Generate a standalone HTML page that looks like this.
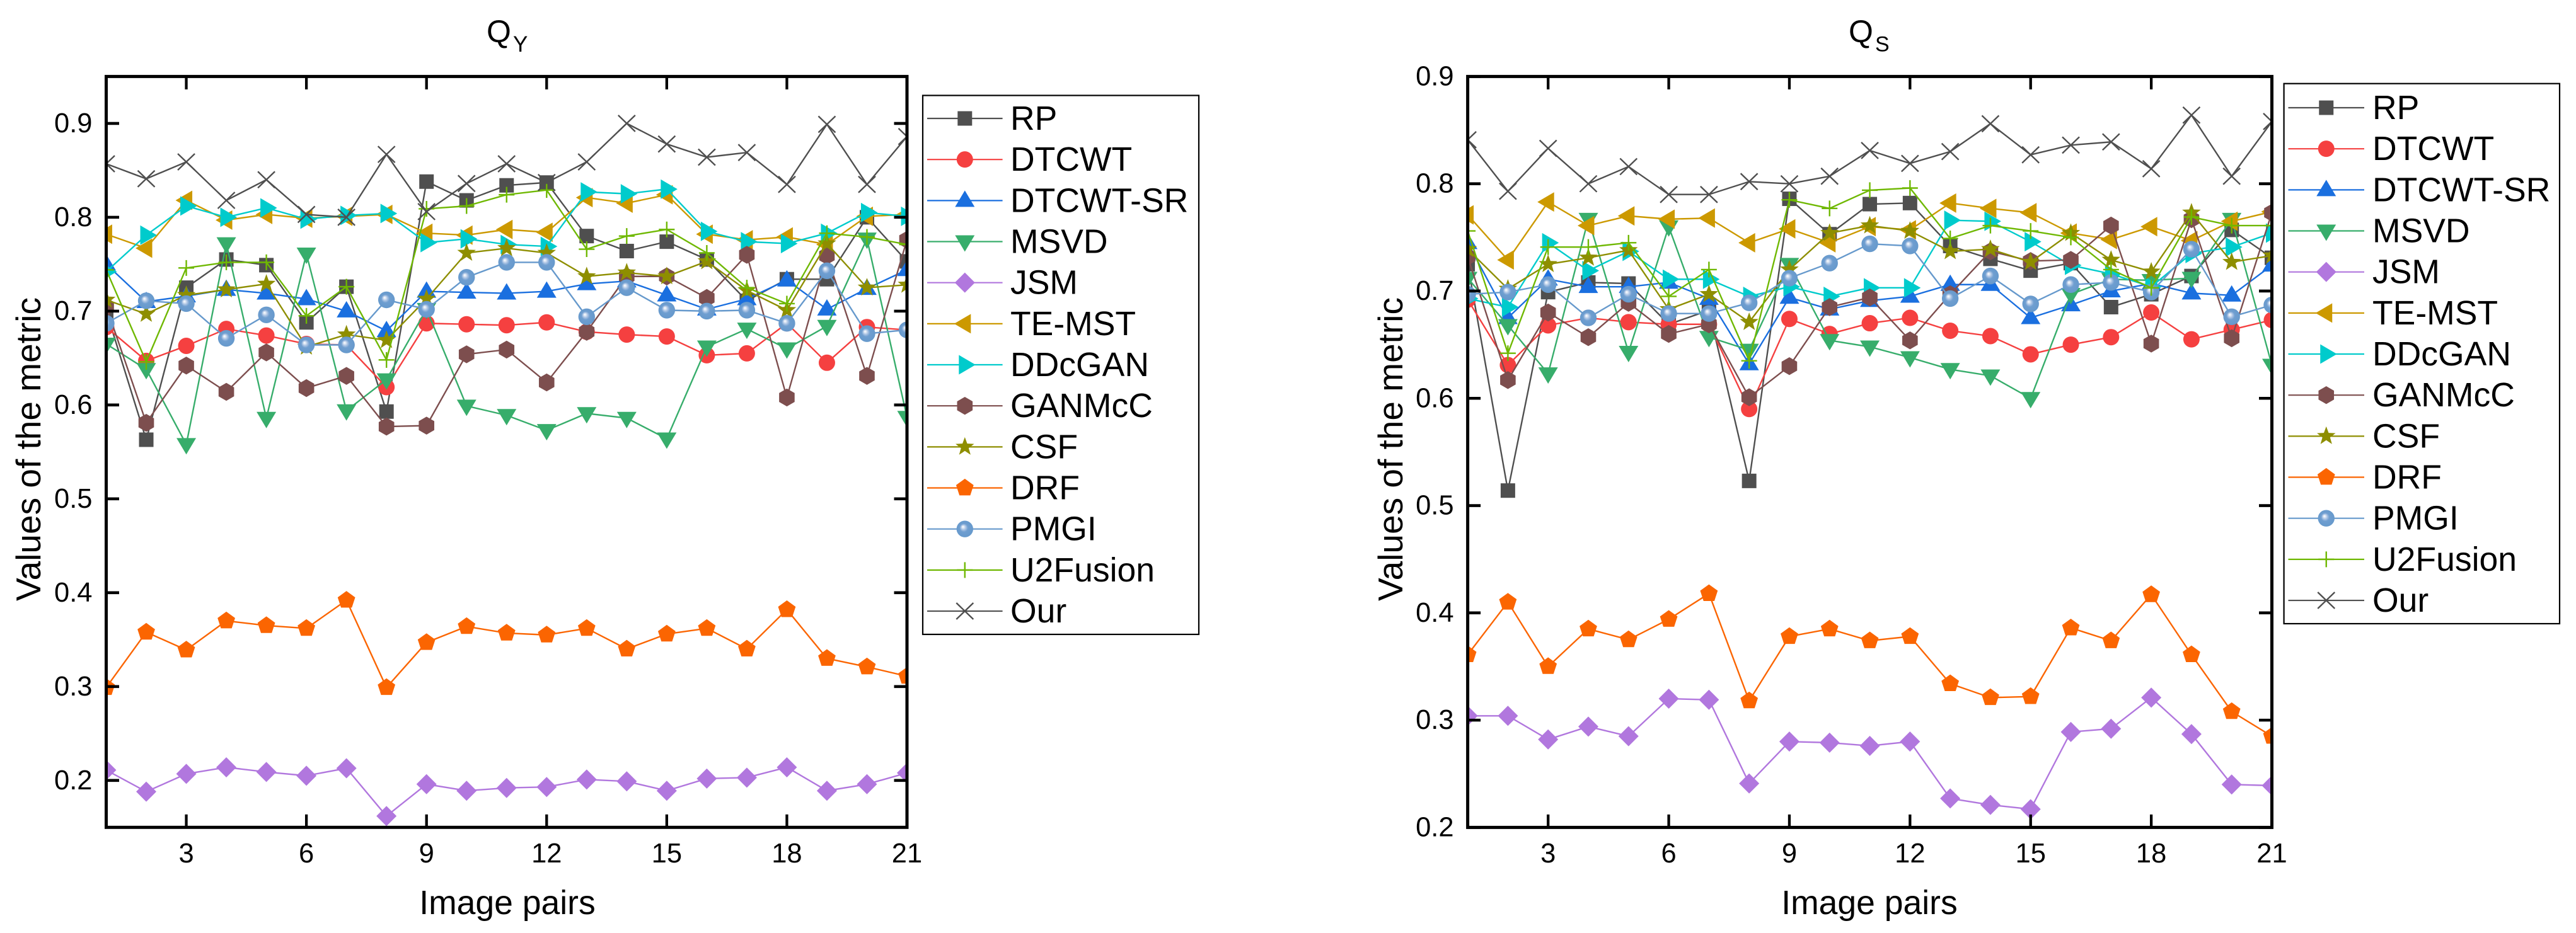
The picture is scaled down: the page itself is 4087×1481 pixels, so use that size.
<!DOCTYPE html>
<html lang="en">
<head>
<meta charset="utf-8">
<title>QY and QS metric comparison</title>
<style>
html,body{margin:0;padding:0;background:#fff}
svg{display:block;font-family:"Liberation Sans",Arial,sans-serif}
text{fill:#000}
</style>
</head>
<body>
<svg id="figure" xmlns="http://www.w3.org/2000/svg" width="4087" height="1481" viewBox="0 0 4087 1481">
  <defs>
    <radialGradient id="sphere" cx="0.5" cy="0.5" r="0.5" fx="0.38" fy="0.36">
      <stop offset="0" stop-color="#ffffff"/>
      <stop offset="0.12" stop-color="#e3ebf6"/>
      <stop offset="0.3" stop-color="#a9c2e3"/>
      <stop offset="0.5" stop-color="#6f9ed0"/>
      <stop offset="1" stop-color="#6699cc"/>
    </radialGradient>
    <clipPath id="clip-qy"><rect x="168.5" y="121" width="1270.5" height="1192"/></clipPath>
    <clipPath id="clip-qs"><rect x="2328.5" y="121" width="1276" height="1192"/></clipPath>
  </defs>
  <rect x="0" y="0" width="4087" height="1481" fill="#ffffff"/>

  <g id="panel-qy">
    <text x="772" y="67" font-size="50">Q</text>
    <text x="814" y="82" font-size="35">Y</text>
    <text x="805" y="1451" font-size="53.5" text-anchor="middle">Image pairs</text>
    <text transform="translate(64 954) rotate(-90)" font-size="55">Values of the metric</text>
  </g>

  <g id="panel-qs">
    <text x="2933" y="67" font-size="50">Q</text>
    <text x="2975" y="81.5" font-size="34">S</text>
    <text x="2966" y="1451" font-size="53.5" text-anchor="middle">Image pairs</text>
    <text transform="translate(2225 954) rotate(-90)" font-size="55">Values of the metric</text>
  </g>
</svg>

<script>
// ---- shared categories and labels ----
const imagePairs = [1,2,3,4,5,6,7,8,9,10,11,12,13,14,15,16,17,18,19,20,21];
const xTickLabels = [3,6,9,12,15,18,21];
const qyTickLabels = [0.2,0.3,0.4,0.5,0.6,0.7,0.8,0.9];
const qsTickLabels = [0.2,0.3,0.4,0.5,0.6,0.7,0.8,0.9];
const methodNames = ["RP","DTCWT","DTCWT-SR","MSVD","JSM","TE-MST","DDcGAN","GANMcC","CSF","DRF","PMGI","U2Fusion","Our"];

// ---- QY values ----
const qyRP = [0.70,0.563,0.725,0.755,0.749,0.688,0.726,0.593,0.838,0.818,0.834,0.837,0.780,0.764,0.774,0.755,0.711,0.734,0.734,0.800,0.753];
const qyDTCWT = [0.683,0.647,0.663,0.681,0.674,0.665,0.664,0.619,0.687,0.686,0.685,0.688,0.678,0.675,0.673,0.653,0.655,0.687,0.645,0.683,0.680];
const qyDTCWTSR = [0.750,0.710,0.716,0.723,0.719,0.713,0.700,0.679,0.721,0.720,0.719,0.721,0.729,0.732,0.717,0.702,0.713,0.733,0.702,0.724,0.744];
const qyMSVD = [0.665,0.638,0.558,0.772,0.586,0.761,0.594,0.627,0.702,0.599,0.589,0.573,0.591,0.586,0.564,0.662,0.681,0.660,0.684,0.777,0.587];
const qyJSM = [0.211,0.188,0.207,0.214,0.209,0.205,0.213,0.162,0.196,0.189,0.192,0.193,0.201,0.199,0.189,0.202,0.203,0.214,0.189,0.196,0.208];
const qyTEMST = [0.782,0.767,0.818,0.797,0.803,0.799,0.801,0.803,0.783,0.781,0.787,0.784,0.821,0.815,0.824,0.782,0.776,0.779,0.771,0.801,0.803];
const qyDDcGAN = [0.742,0.781,0.812,0.800,0.810,0.798,0.802,0.804,0.773,0.777,0.771,0.769,0.827,0.825,0.830,0.785,0.774,0.772,0.783,0.805,0.801];
const qyGANMcC = [0.705,0.581,0.642,0.614,0.656,0.618,0.631,0.577,0.578,0.654,0.659,0.624,0.678,0.737,0.737,0.714,0.760,0.608,0.759,0.631,0.776];
const qyCSF = [0.712,0.697,0.717,0.723,0.729,0.662,0.675,0.669,0.713,0.762,0.767,0.762,0.737,0.741,0.737,0.753,0.722,0.701,0.772,0.725,0.728];
const qyDRF = [0.299,0.358,0.339,0.370,0.365,0.362,0.392,0.299,0.347,0.364,0.357,0.355,0.362,0.340,0.356,0.362,0.340,0.382,0.330,0.321,0.311];
const qyPMGI = [0.687,0.711,0.708,0.671,0.696,0.664,0.664,0.712,0.702,0.736,0.752,0.752,0.694,0.725,0.701,0.700,0.701,0.687,0.743,0.676,0.680];
const qyU2Fusion = [0.744,0.646,0.746,0.752,0.752,0.695,0.726,0.648,0.809,0.812,0.824,0.829,0.766,0.780,0.787,0.762,0.725,0.708,0.783,0.779,0.771];
const qyOur = [0.857,0.841,0.859,0.818,0.840,0.803,0.800,0.867,0.806,0.836,0.857,0.837,0.859,0.900,0.878,0.864,0.869,0.835,0.899,0.835,0.886];

// ---- QS values ----
const qsRP = [0.725,0.514,0.699,0.708,0.707,0.669,0.682,0.523,0.786,0.753,0.781,0.782,0.742,0.730,0.719,0.726,0.685,0.697,0.714,0.757,0.731];
const qsDTCWT = [0.692,0.631,0.668,0.675,0.671,0.669,0.669,0.590,0.674,0.660,0.670,0.675,0.663,0.658,0.641,0.650,0.657,0.680,0.655,0.664,0.673];
const qsDTCWTSR = [0.745,0.675,0.711,0.704,0.704,0.708,0.693,0.632,0.694,0.683,0.691,0.695,0.706,0.706,0.675,0.687,0.700,0.707,0.698,0.696,0.724];
const qsMSVD = [0.712,0.668,0.623,0.767,0.643,0.760,0.657,0.645,0.725,0.654,0.648,0.638,0.627,0.621,0.600,0.697,0.711,0.710,0.712,0.767,0.631];
const qsJSM = [0.304,0.304,0.282,0.294,0.285,0.320,0.319,0.241,0.280,0.279,0.276,0.280,0.227,0.221,0.217,0.289,0.292,0.321,0.287,0.240,0.239];
const qsTEMST = [0.771,0.729,0.783,0.761,0.770,0.767,0.768,0.745,0.758,0.745,0.760,0.757,0.782,0.777,0.773,0.754,0.748,0.760,0.747,0.765,0.774];
const qsDDcGAN = [0.693,0.685,0.745,0.719,0.737,0.711,0.711,0.695,0.704,0.695,0.703,0.703,0.766,0.765,0.746,0.724,0.716,0.704,0.735,0.741,0.754];
const qsGANMcC = [0.732,0.617,0.680,0.657,0.689,0.660,0.669,0.601,0.630,0.685,0.694,0.654,0.697,0.737,0.728,0.729,0.761,0.651,0.767,0.656,0.773];
const qsCSF = [0.739,0.702,0.725,0.731,0.738,0.683,0.697,0.671,0.720,0.754,0.761,0.756,0.737,0.739,0.727,0.754,0.729,0.718,0.773,0.727,0.733];
const qsDRF = [0.361,0.410,0.350,0.385,0.375,0.394,0.418,0.318,0.378,0.385,0.374,0.378,0.334,0.321,0.322,0.386,0.374,0.417,0.361,0.308,0.285];
const qsPMGI = [0.697,0.699,0.706,0.675,0.697,0.679,0.679,0.689,0.712,0.726,0.744,0.742,0.693,0.714,0.688,0.706,0.708,0.699,0.739,0.676,0.687];
const qsU2Fusion = [0.756,0.642,0.741,0.741,0.745,0.695,0.720,0.635,0.785,0.777,0.794,0.796,0.749,0.761,0.756,0.750,0.720,0.703,0.769,0.761,0.761];
const qsOur = [0.841,0.793,0.833,0.800,0.816,0.790,0.790,0.802,0.800,0.807,0.831,0.819,0.830,0.856,0.827,0.836,0.839,0.814,0.864,0.807,0.858];

// ---- styling (not data) ----
const methodColors = ["#4f4f4f","#f54040","#1a6fdf","#37ad6b","#b177de","#cc9900","#00cbcc","#7d4e4e","#8e8e00","#fb6501","#6699cc","#6fb802","#4f4f4f"];
const methodMarkers = ["square","circle","up","down","diamond","left","right","hexagon","star","pentagon","sphere","plus","cross"];
const qySeries = [qyRP,qyDTCWT,qyDTCWTSR,qyMSVD,qyJSM,qyTEMST,qyDDcGAN,qyGANMcC,qyCSF,qyDRF,qyPMGI,qyU2Fusion,qyOur];
const qsSeries = [qsRP,qsDTCWT,qsDTCWTSR,qsMSVD,qsJSM,qsTEMST,qsDDcGAN,qsGANMcC,qsCSF,qsDRF,qsPMGI,qsU2Fusion,qsOur];

const NS = "http://www.w3.org/2000/svg";

function makeEl(tag, attrs) {
  const el = document.createElementNS(NS, tag);
  for (const k in attrs) el.setAttribute(k, attrs[k]);
  return el;
}

function axisX(panel, v) {
  return panel.left + (v - 1) / 20 * (panel.right - panel.left);
}
function axisY(panel, v) {
  return panel.bottom - (v - panel.yMin) / (panel.yMax - panel.yMin) * (panel.bottom - panel.top);
}

function polyPoints(cx, cy, pts) {
  return pts.map(function (p) { return (cx + p[0]).toFixed(2) + "," + (cy + p[1]).toFixed(2); }).join(" ");
}
function radialPoints(n, r, startDeg) {
  const out = [];
  for (let i = 0; i < n; i++) {
    const a = (startDeg + i * 360 / n) * Math.PI / 180;
    out.push([r * Math.cos(a), r * Math.sin(a)]);
  }
  return out;
}
function starPoints(R, r) {
  const out = [];
  for (let i = 0; i < 10; i++) {
    const a = (-90 + i * 36) * Math.PI / 180;
    const rad = i % 2 ? r : R;
    out.push([rad * Math.cos(a), rad * Math.sin(a)]);
  }
  return out;
}

function drawMarker(parent, type, cx, cy, color, name) {
  let el;
  if (type === "square") {
    el = makeEl("rect", {x: cx - 11.5, y: cy - 11.5, width: 23, height: 23, fill: color});
  } else if (type === "circle") {
    el = makeEl("circle", {cx: cx, cy: cy, r: 13, fill: color});
  } else if (type === "sphere") {
    el = makeEl("circle", {cx: cx, cy: cy, r: 13.2, fill: "url(#sphere)"});
  } else if (type === "up") {
    el = makeEl("polygon", {points: polyPoints(cx, cy, [[0,-16],[15.5,10],[-15.5,10]]), fill: color});
  } else if (type === "down") {
    el = makeEl("polygon", {points: polyPoints(cx, cy, [[0,16],[15.5,-10],[-15.5,-10]]), fill: color});
  } else if (type === "left") {
    el = makeEl("polygon", {points: polyPoints(cx, cy, [[-17,0],[9.5,-15.5],[9.5,15.5]]), fill: color});
  } else if (type === "right") {
    el = makeEl("polygon", {points: polyPoints(cx, cy, [[17,0],[-9.5,-15.5],[-9.5,15.5]]), fill: color});
  } else if (type === "diamond") {
    el = makeEl("polygon", {points: polyPoints(cx, cy, [[0,-16],[16,0],[0,16],[-16,0]]), fill: color});
  } else if (type === "hexagon") {
    el = makeEl("polygon", {points: polyPoints(cx, cy, radialPoints(6, 14.2, -90)), fill: color});
  } else if (type === "pentagon") {
    el = makeEl("polygon", {points: polyPoints(cx, cy, radialPoints(5, 14.6, -90)), fill: color});
  } else if (type === "star") {
    el = makeEl("polygon", {points: polyPoints(cx, cy, starPoints(15.5, 6.4)), fill: color});
  } else if (type === "plus") {
    el = makeEl("path", {d: "M" + (cx - 12.5) + " " + cy + "H" + (cx + 12.5) + "M" + cx + " " + (cy - 12.5) + "V" + (cy + 12.5), stroke: color, "stroke-width": 2.4, fill: "none"});
  } else {
    el = makeEl("path", {d: "M" + (cx - 13.5) + " " + (cy - 13) + "L" + (cx + 13.5) + " " + (cy + 13) + "M" + (cx - 13.5) + " " + (cy + 13) + "L" + (cx + 13.5) + " " + (cy - 13), stroke: color, "stroke-width": 2.4, fill: "none"});
  }
  
  
  parent.appendChild(el);
}

function slug(s) {
  return s.toLowerCase().replace(/[^a-z0-9]+/g, "-");
}

function drawSeries(panel, parent) {
  panel.series.forEach(function (values, s) {
    const color = methodColors[s];
    const g = makeEl("g", {"clip-path": "url(#" + panel.clip + ")"});
    
    
    const pts = values.map(function (v, i) {
      return axisX(panel, imagePairs[i]).toFixed(2) + "," + axisY(panel, v).toFixed(2);
    }).join(" ");
    const line = makeEl("polyline", {points: pts, fill: "none", stroke: color, "stroke-width": 2.4, "stroke-linejoin": "miter"});
    
    
    g.appendChild(line);
    values.forEach(function (v, i) {
      drawMarker(g, methodMarkers[s], axisX(panel, imagePairs[i]), axisY(panel, v), color, panel.id + '-point-' + slug(methodNames[s]));
    });
    parent.appendChild(g);
  });
}

function drawFrame(panel, parent) {
  const g = makeEl("g", {});
  
  

  xTickLabels.forEach(function (t) {
    const x = axisX(panel, t);
    const top = makeEl("line", {x1: x, x2: x, y1: panel.top, y2: panel.top + 20.5, stroke: "#000", "stroke-width": 4.3});
    
    
    g.appendChild(top);
    const bottom = makeEl("line", {x1: x, x2: x, y1: panel.bottom, y2: panel.bottom - 20.5, stroke: "#000", "stroke-width": 4.3});
    
    
    g.appendChild(bottom);
    const label = makeEl("text", {x: x, y: 1369, "font-size": 43.5, "text-anchor": "middle"});
    
    
    label.textContent = String(t);
    g.appendChild(label);
  });

  panel.yTicks.forEach(function (t) {
    const y = axisY(panel, t);
    const left = makeEl("line", {x1: panel.left, x2: panel.left + 20.5, y1: y, y2: y, stroke: "#000", "stroke-width": 4.6});
    
    
    g.appendChild(left);
    const right = makeEl("line", {x1: panel.right, x2: panel.right - 20.5, y1: y, y2: y, stroke: "#000", "stroke-width": 4.6});
    
    
    g.appendChild(right);
    const label = makeEl("text", {x: panel.left - 22, y: y + 14, "font-size": 43.5, "text-anchor": "end"});
    
    
    label.textContent = t.toFixed(1);
    g.appendChild(label);
  });

  const frame = makeEl("rect", {x: panel.left, y: panel.top, width: panel.right - panel.left, height: panel.bottom - panel.top, fill: "none", stroke: "#000", "stroke-width": 5});
  
  
  g.appendChild(frame);
  parent.appendChild(g);
}

function drawLegend(panel, parent) {
  const lg = panel.legend;
  const g = makeEl("g", {});
  
  
  const box = makeEl("rect", {x: lg.x, y: lg.y, width: lg.w, height: lg.h, fill: "#fff", stroke: "#000", "stroke-width": 2.2});
  
  
  g.appendChild(box);
  methodNames.forEach(function (name, s) {
    const y = lg.firstY + s * lg.stepY;
    const entry = makeEl("g", {});
    
    
    const sample = makeEl("line", {x1: lg.lineX1, x2: lg.lineX2, y1: y, y2: y, stroke: methodColors[s], "stroke-width": 2.2});
    
    
    entry.appendChild(sample);
    drawMarker(entry, methodMarkers[s], (lg.lineX1 + lg.lineX2) / 2, y, methodColors[s], panel.id + '-legend-marker-' + slug(name));
    const label = makeEl("text", {x: lg.textX, y: y + 18, "font-size": 53.5});
    
    
    label.textContent = name;
    entry.appendChild(label);
    g.appendChild(entry);
  });
  parent.appendChild(g);
}

const panelQY = {
  id: "qy", clip: "clip-qy", series: qySeries, yTicks: qyTickLabels,
  left: 168.5, right: 1439, top: 121.4, bottom: 1313.3, yMin: 0.15, yMax: 0.95,
  legend: {x: 1464, y: 151.5, w: 438, h: 855.5, firstY: 188, stepY: 65.17, lineX1: 1471, lineX2: 1590.6, textX: 1603}
};
const panelQS = {
  id: "qs", clip: "clip-qs", series: qsSeries, yTicks: qsTickLabels,
  left: 2328.6, right: 3604.5, top: 121.4, bottom: 1313.4, yMin: 0.2, yMax: 0.9,
  legend: {x: 3623.6, y: 132.7, w: 437.4, h: 857.3, firstY: 171, stepY: 65.17, lineX1: 3630.5, lineX2: 3751, textX: 3764}
};

[panelQY, panelQS].forEach(function (panel) {
  const parent = document.getElementById("panel-" + panel.id);
  drawSeries(panel, parent);
  drawFrame(panel, parent);
  drawLegend(panel, parent);
});
</script>
</body>
</html>
